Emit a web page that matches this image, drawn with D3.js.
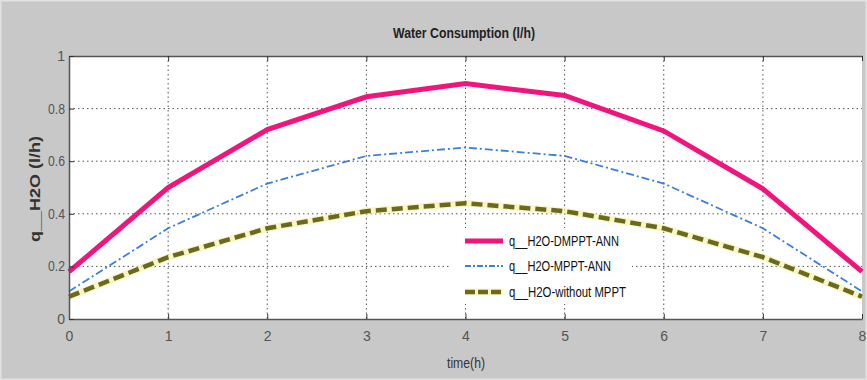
<!DOCTYPE html>
<html><head><meta charset="utf-8">
<script src="https://cdn.jsdelivr.net/npm/d3@7"></script>
<style>
html,body{margin:0;padding:0;background:#c8c8c8;}
text{font-family:"Liberation Sans","Arial",sans-serif;}
</style></head>
<body><svg id="c" width="867" height="380"></svg>
<script>
const hours = [0,1,2,3,4,5,6,7,8];
const dmpptAnn = [0.18,0.50,0.72,0.845,0.895,0.85,0.715,0.495,0.18];
const mpptAnn  = [0.105,0.345,0.515,0.62,0.652,0.62,0.515,0.345,0.105];
const withoutMppt = [0.085,0.235,0.345,0.41,0.44,0.41,0.345,0.235,0.085];
const xTicks = [0,1,2,3,4,5,6,7,8];
const yTicks = [0,0.2,0.4,0.6,0.8,1];
const seriesNames = ["q__H2O-DMPPT-ANN","q__H2O-MPPT-ANN","q__H2O-without MPPT"];

const svg = d3.select("#c");
svg.append("rect").attr("width",867).attr("height",380).attr("fill","#c8c8c8");
svg.append("rect").attr("x",0).attr("y",0).attr("width",867).attr("height",380)
  .attr("fill","none").attr("stroke","#e2e2e2").attr("stroke-width",3);

const L=69,R=862,T=56,B=319;
const x = d3.scaleLinear().domain([0,8]).range([L,R]);
const y = d3.scaleLinear().domain([0,1]).range([B,T]);

svg.append("rect").attr("x",L).attr("y",T).attr("width",R-L).attr("height",B-T).attr("fill","#fff");

// grid
const g = svg.append("g");
g.selectAll(".vg").data(xTicks.slice(1,-1)).join("line")
  .attr("x1",d=>x(d)).attr("x2",d=>x(d)).attr("y1",T).attr("y2",B)
  .attr("stroke","#555").attr("stroke-width",1).attr("stroke-dasharray","1.5,3");
g.selectAll(".hg").data(yTicks.slice(1,-1)).join("line")
  .attr("y1",d=>y(d)).attr("y2",d=>y(d)).attr("x1",L).attr("x2",R)
  .attr("stroke","#555").attr("stroke-width",1).attr("stroke-dasharray","1.5,3");

// series
const line = d3.line().x((d,i)=>x(hours[i])).y(d=>y(d));
svg.append("path").datum(withoutMppt).attr("d",line).attr("fill","none")
  .attr("stroke","#f4f0a0").attr("stroke-width",7).attr("stroke-opacity",0.6);
svg.append("path").datum(withoutMppt).attr("d",line).attr("fill","none")
  .attr("stroke","#6b6a1c").attr("stroke-width",4.5).attr("stroke-dasharray","11,5");
svg.append("path").datum(mpptAnn).attr("d",line).attr("fill","none")
  .attr("stroke","#3b7fe0").attr("stroke-width",1.8).attr("stroke-dasharray","8,3,2,3");
svg.append("path").datum(dmpptAnn).attr("d",line).attr("fill","none")
  .attr("stroke","#f0147c").attr("stroke-width",5);

// axes
const xAxis = d3.axisBottom(x).tickValues(xTicks).tickFormat(d3.format("d")).tickSizeInner(-5).tickSizeOuter(0).tickPadding(12);
const xTop = d3.axisTop(x).tickValues(xTicks).tickFormat("").tickSizeInner(-5).tickSizeOuter(0);
const yAxis = d3.axisLeft(y).tickValues(yTicks).tickFormat(d=>d===0||d===1?d3.format("d")(d):d3.format(".1f")(d)).tickSizeInner(-5).tickSizeOuter(0).tickPadding(4);
const yRight = d3.axisRight(y).tickValues(yTicks).tickFormat("").tickSizeInner(-5).tickSizeOuter(0);

function style(sel){
  sel.select(".domain").attr("stroke","#555").attr("stroke-width",1.5);
  sel.selectAll(".tick line").attr("stroke","#333");
  sel.selectAll(".tick text").attr("fill","#555").attr("font-size",14)
    .style("font-family",'"Liberation Sans",sans-serif');
}
svg.append("g").attr("transform",`translate(0,${B})`).call(xAxis).call(style);
svg.append("g").attr("transform",`translate(0,${T})`).call(xTop).call(style);
svg.append("g").attr("transform",`translate(${L},0)`).call(yAxis).call(style)
  .selectAll(".tick text").attr("textLength",function(){return this.textContent.length>1?17:null;}).attr("lengthAdjust","spacingAndGlyphs");

// title and labels
svg.append("text").attr("x",464).attr("y",38).attr("text-anchor","middle")
  .attr("font-size",15).attr("font-weight","bold").attr("fill","#222")
  .attr("textLength",142).attr("lengthAdjust","spacingAndGlyphs").text("Water Consumption (l/h)");
svg.append("text").attr("x",466).attr("y",368).attr("text-anchor","middle")
  .attr("font-size",14).attr("fill","#333")
  .attr("textLength",38).attr("lengthAdjust","spacingAndGlyphs").text("time(h)");
svg.append("text").attr("transform","translate(40,189) rotate(-90)").attr("text-anchor","middle")
  .attr("font-size",14).attr("font-weight","bold").attr("fill","#333")
  .attr("textLength",106).attr("lengthAdjust","spacingAndGlyphs").text("q__H2O (l/h)");

// legend
const legY=[241,266,292];
const legLen=[110,102,117];
const lg = svg.append("g");
lg.append("rect").attr("x",450).attr("y",228).attr("width",182).attr("height",76).attr("fill","#fff");
lg.append("line").attr("x1",465).attr("x2",503).attr("y1",legY[0]).attr("y2",legY[0])
  .attr("stroke","#f0147c").attr("stroke-width",5);
lg.append("line").attr("x1",465).attr("x2",503).attr("y1",legY[1]).attr("y2",legY[1])
  .attr("stroke","#3b7fe0").attr("stroke-width",1.8).attr("stroke-dasharray","6,2,2,2");
lg.append("line").attr("x1",465).attr("x2",503).attr("y1",legY[2]).attr("y2",legY[2])
  .attr("stroke","#f4f0a0").attr("stroke-width",7).attr("stroke-opacity",0.6);
lg.append("line").attr("x1",465).attr("x2",503).attr("y1",legY[2]).attr("y2",legY[2])
  .attr("stroke","#6b6a1c").attr("stroke-width",4.5).attr("stroke-dasharray","10,3");
lg.selectAll("text").data(seriesNames).join("text")
  .attr("x",509).attr("y",(d,i)=>legY[i]+5).attr("font-size",14).attr("fill","#111")
  .attr("textLength",(d,i)=>legLen[i]).attr("lengthAdjust","spacingAndGlyphs")
  .text(d=>d);
</script>
</body></html>
